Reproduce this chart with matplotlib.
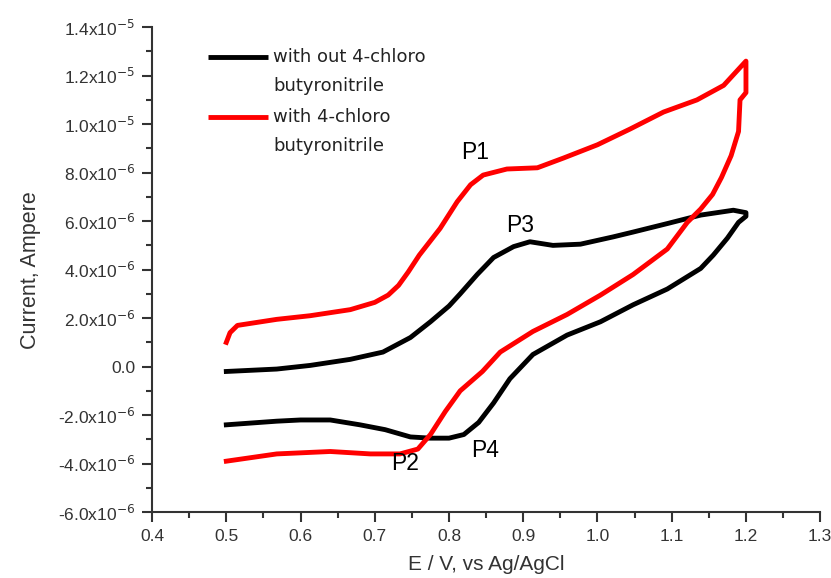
import numpy as np
import matplotlib.pyplot as plt
from matplotlib.ticker import MultipleLocator, FuncFormatter

plt.rcParams['font.family'] = ['Liberation Sans', 'DejaVu Sans']

# without 4-chloro butyronitrile (black), forward then reverse scan
e_without = [0.5, 0.568, 0.613, 0.667, 0.711, 0.748, 0.775, 0.8, 0.815, 0.838, 0.86, 0.887,
             0.909, 0.94, 0.977, 1.021, 1.048, 1.094, 1.139, 1.183, 1.2,
             1.2, 1.19, 1.175, 1.156, 1.139, 1.094, 1.048, 1.004, 0.959, 0.913, 0.882,
             0.86, 0.84, 0.82, 0.8, 0.775, 0.748, 0.714, 0.68, 0.64, 0.6, 0.568, 0.5]
i_without = [-0.2e-6, -0.1e-6, 0.05e-6, 0.3e-6, 0.6e-6, 1.2e-6, 1.85e-6, 2.5e-6, 3.0e-6, 3.8e-6, 4.5e-6, 4.95e-6,
             5.15e-6, 5.0e-6, 5.05e-6, 5.35e-6, 5.55e-6, 5.9e-6, 6.25e-6, 6.45e-6, 6.35e-6,
             6.2e-6, 5.95e-6, 5.3e-6, 4.6e-6, 4.05e-6, 3.2e-6, 2.55e-6, 1.85e-6, 1.3e-6, 0.5e-6, -0.5e-6,
             -1.5e-6, -2.3e-6, -2.8e-6, -2.95e-6, -2.95e-6, -2.9e-6, -2.6e-6, -2.4e-6, -2.2e-6, -2.2e-6, -2.25e-6, -2.4e-6]

# with 4-chloro butyronitrile (red)
e_with = [0.5, 0.505, 0.515, 0.568, 0.613, 0.667, 0.7, 0.718, 0.732, 0.745, 0.76, 0.788, 0.811, 0.829, 0.846,
          0.878, 0.919, 0.954, 1.0, 1.044, 1.089, 1.134, 1.17, 1.2,
          1.2, 1.192, 1.19, 1.18, 1.167, 1.155, 1.139, 1.121, 1.094, 1.048, 1.004, 0.959, 0.913,
          0.869, 0.845, 0.815, 0.795, 0.775, 0.758, 0.734, 0.694, 0.64, 0.568, 0.5]
i_with = [1.0e-6, 1.4e-6, 1.7e-6, 1.95e-6, 2.1e-6, 2.35e-6, 2.65e-6, 2.95e-6, 3.35e-6, 3.9e-6, 4.6e-6, 5.7e-6, 6.8e-6, 7.5e-6, 7.9e-6,
          8.15e-6, 8.2e-6, 8.6e-6, 9.15e-6, 9.8e-6, 1.05e-5, 1.1e-5, 1.16e-5, 1.26e-5,
          1.13e-5, 1.1e-5, 9.7e-6, 8.7e-6, 7.8e-6, 7.1e-6, 6.5e-6, 5.95e-6, 4.85e-6, 3.8e-6, 2.95e-6, 2.15e-6, 1.45e-6,
          0.6e-6, -0.2e-6, -1.0e-6, -1.85e-6, -2.8e-6, -3.4e-6, -3.6e-6, -3.6e-6, -3.5e-6, -3.6e-6, -3.9e-6]

series_labels = [['with out 4-chloro', 'butyronitrile'], ['with 4-chloro', 'butyronitrile']]
series_colors = ['black', 'red']

peak_labels = ['P1', 'P3', 'P2', 'P4']
peak_x = [0.835, 0.896, 0.741, 0.849]
peak_y = [8.85e-6, 5.8e-6, -3.98e-6, -3.44e-6]


def sci_fmt(v, pos):
    if abs(v) < 1e-12:
        return '0.0'
    exp = int(np.floor(np.log10(abs(v))))
    m = v / 10**exp
    return '%.1fx10$^{%d}$' % (m, exp)


fig = plt.figure(figsize=(8.31, 5.78), dpi=100)
ax = fig.add_axes([0.183, 0.114, 0.804, 0.839])

ax.plot(e_without, i_without, color=series_colors[0], lw=3.5)
ax.plot(e_with, i_with, color=series_colors[1], lw=3.5)

for lab, x, y in zip(peak_labels, peak_x, peak_y):
    ax.text(x, y, lab, fontsize=16.5, ha='center', va='center')

# legend, handle next to the first line of each label
for k, (lines, col) in enumerate(zip(series_labels, series_colors)):
    y0 = 0.938 - k * 0.124
    ax.plot([0.084, 0.174], [y0, y0], color=col, lw=3.5, transform=ax.transAxes,
            solid_capstyle='butt')
    for j, txt in enumerate(lines):
        ax.text(0.181, y0 - j * 0.06, txt, transform=ax.transAxes, fontsize=13,
                family='DejaVu Sans', color='#222222', va='center', ha='left')

ax.set_xlim(0.4, 1.3)
ax.set_ylim(-6e-6, 1.4e-5)
ax.xaxis.set_major_locator(MultipleLocator(0.1))
ax.xaxis.set_minor_locator(MultipleLocator(0.05))
ax.yaxis.set_major_locator(MultipleLocator(2e-6))
ax.yaxis.set_minor_locator(MultipleLocator(1e-6))
ax.xaxis.set_major_formatter(FuncFormatter(lambda v, p: '%.1f' % v))
ax.yaxis.set_major_formatter(FuncFormatter(sci_fmt))
ax.yaxis.get_offset_text().set_visible(False)

ax.spines['top'].set_visible(False)
ax.spines['right'].set_visible(False)
for s in ['left', 'bottom']:
    ax.spines[s].set_linewidth(1.5)
    ax.spines[s].set_color('#333333')
ax.tick_params(which='major', direction='out', length=7, width=1.5,
               labelsize=12.5, colors='#333333', pad=5)
ax.tick_params(which='minor', direction='out', length=4, width=1.5, colors='#333333')

ax.set_xlabel('E / V, vs Ag/AgCl', fontsize=15, color='#333333', labelpad=8)
ax.set_ylabel('Current, Ampere', fontsize=15.5, color='#333333', labelpad=12)

fig.savefig('out.png', dpi=100)
